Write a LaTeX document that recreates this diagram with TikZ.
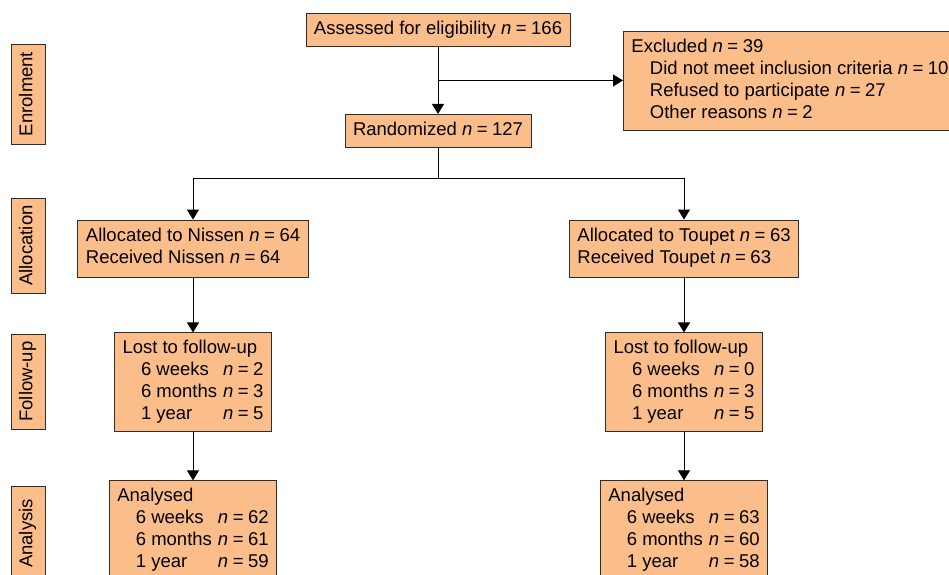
\documentclass[tikz,border=0pt]{standalone}
\usepackage{fontspec}
\setmainfont{Liberation Sans}
\usetikzlibrary{positioning,arrows.meta}
\definecolor{boxfill}{RGB}{251,190,138}
\definecolor{boxline}{RGB}{45,45,45}
\newcommand{\nn}[1]{\textit{n}\hspace{4.5pt}=\hspace{4.5pt}#1}
\newcommand{\tb}[1]{\begin{tabular}{@{}l@{}}#1\end{tabular}}
\newcommand{\tbb}[1]{\begin{tabular}{@{}l@{\hspace{6pt}}l@{}}#1\end{tabular}}
\newcommand{\hd}[1]{\multicolumn{2}{@{}l@{}}{#1}}
\begin{document}
\begin{tikzpicture}[x=1pt,y=1pt,
    main/.style = {draw=boxline, fill=boxfill, line width=0.9pt, inner xsep=8pt, inner ysep=5.5pt, font=\fontsize{18.5}{22}\selectfont},
    side/.style = {main, rotate=90, inner xsep=6pt, inner ysep=6pt, minimum width=95pt},
    arr/.style = {-{Triangle[width=12pt,length=10pt]}, line width=0.9pt}]
    \useasboundingbox (0,0) rectangle (949,-574);
    % stage labels
    \node[side, minimum width=100pt] (e) at (28,-94) {\tb{Enrolment}};
    \node[side] (a) at (28,-245.5) {\tb{Allocation}};
    \node[side] (f) at (28,-381.5) {\tb{Follow-up}};
    \node[side] (y) at (28,-533.5) {\tb{Analysis}};
    % flow
    \node[main] (1) at (438,-30) {\tb{Assessed for eligibility \nn{166}}};
    \node[main] (2) [below=67pt of 1] {\tb{Randomized \nn{127}}};
    \node[main, anchor=north west] (3) at (623,-31) {\tb{Excluded \nn{39}\\
        \quad Did not meet inclusion criteria \nn{10}\\
        \quad Refused to participate \nn{27}\\
        \quad Other reasons \nn{2}}};
    \node[main, inner ysep=6.5pt] (4) at (193,-248.5) {\tb{Allocated to Nissen \nn{64}\\ Received Nissen \nn{64}}};
    \node[main, inner ysep=6.5pt] (5) at (684,-248.5) {\tb{Allocated to Toupet \nn{63}\\ Received Toupet \nn{63}}};
    \node[main] (6) [below=55pt of 4] {\tbb{\hd{Lost to follow-up}\\
        \quad 6 weeks & \nn{2}\\ \quad 6 months & \nn{3}\\ \quad 1 year & \nn{5}}};
    \node[main] (7) [below=55pt of 5] {\tbb{\hd{Lost to follow-up}\\
        \quad 6 weeks & \nn{0}\\ \quad 6 months & \nn{3}\\ \quad 1 year & \nn{5}}};
    \node[main] (8) [below=48pt of 6] {\tbb{\hd{Analysed}\\
        \quad 6 weeks & \nn{62}\\ \quad 6 months & \nn{61}\\ \quad 1 year & \nn{59}}};
    \node[main] (9) [below=48pt of 7] {\tbb{\hd{Analysed}\\
        \quad 6 weeks & \nn{63}\\ \quad 6 months & \nn{60}\\ \quad 1 year & \nn{58}}};
    \path (1.south) -- (2.north) coordinate[pos=0.5] (b);
    \coordinate (h) at (0,-178);
    \coordinate (s) at (2.south |- h);
    \draw[arr] (1.south) -- (2.north);
    \draw[arr] (b) -- (b -| 3.west);
    \draw (2.south) -- (s);
    \draw[arr] (s) -| (4.north);
    \draw[arr] (s) -| (5.north);
    \draw[arr] (4.south) -- (6.north);
    \draw[arr] (5.south) -- (7.north);
    \draw[arr] (6.south) -- (8.north);
    \draw[arr] (7.south) -- (9.north);
\end{tikzpicture}
\end{document}
